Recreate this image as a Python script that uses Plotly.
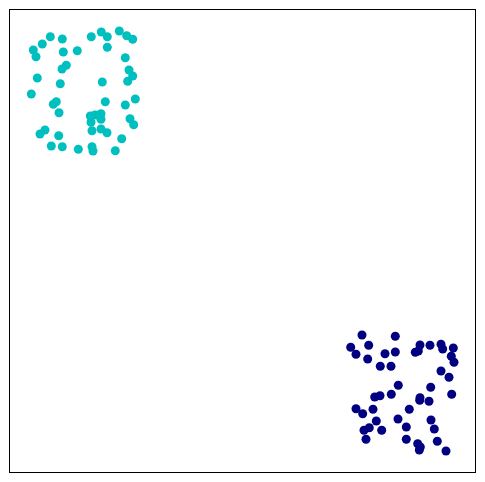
import plotly.graph_objects as go

# cyan cluster (x, y in data units)
cyan_x = [23.3, 26, 32.3, 40.3, 52.3, 53.3, 67.3, 81.3, 91.3, 97.3, 97.3, 109.3, 116.7, 122.7,
          115.3, 119, 122.7, 117.7, 52, 56.3, 27.3, 50.3, 92.3, 21.3, 43.3, 46.3, 49, 95.3,
          115.3, 125.3, 80.3, 85, 91, 81, 91, 82, 91, 97, 120, 123.7, 30, 35, 48.7, 41.3,
          52.3, 68.3, 82, 83, 105.3, 111.7]
cyan_y = [422, 415.3, 428, 435.3, 433, 420, 421.3, 435.3, 440, 435.3, 424.7, 441, 436.3, 432.7,
          414.3, 402, 396, 390.7, 403, 406.7, 394, 388.3, 390, 378, 367.7, 370.3, 359.3, 370.3,
          367, 373, 356, 357, 358.3, 349.7, 352.7, 341.3, 343, 339.3, 353.3, 347.3, 338, 342,
          336.3, 326, 325.3, 322.7, 325.3, 321, 321.3, 333.3]

# navy cluster
navy_x = [352, 385.3, 340.7, 358.7, 346, 357.7, 375, 385.3, 370.3, 381, 410, 405.3, 408.3, 420,
          431, 432.7, 443.3, 441.3, 444, 431, 439, 388.3, 420.7, 381.3, 370, 364.7, 441.7, 346,
          352.7, 363, 410, 409.7, 419, 399.3, 366.3, 359.3, 354, 371.7, 356, 388, 396.3, 421,
          424.3, 396.3, 427.3, 407.7, 410.3, 409.3, 436]
navy_y = [137, 135.7, 124.7, 126.7, 117.7, 113, 118.3, 120, 105.7, 105.7, 127, 119.7, 121, 126.7,
          127.7, 123, 124, 115.7, 109.7, 101, 94.7, 86.7, 84.7, 77.7, 76.3, 75, 77.7, 63.3,
          58.3, 62.7, 74.3, 71.7, 70.7, 62.7, 51, 44.3, 41.7, 41.7, 32.7, 53, 45, 52, 43,
          32.7, 30.7, 28.3, 25, 22, 21]

fig = go.Figure()
fig.add_trace(go.Scatter(x=cyan_x, y=cyan_y, mode="markers",
                         marker=dict(color="#00bfbf", size=9, line=dict(width=0))))
fig.add_trace(go.Scatter(x=navy_x, y=navy_y, mode="markers",
                         marker=dict(color="#000080", size=9, line=dict(width=0))))

axis_common = dict(showgrid=False, zeroline=False, showticklabels=False, ticks="",
                   showline=True, mirror=True, linecolor="black", linewidth=1)
fig.update_layout(
    width=469, height=466,
    margin=dict(l=2, r=2, t=2, b=2),
    paper_bgcolor="white", plot_bgcolor="white",
    showlegend=False,
    xaxis=dict(range=[0, 465], **axis_common),
    yaxis=dict(range=[0, 462], **axis_common),
)
fig.write_html("out.html")
